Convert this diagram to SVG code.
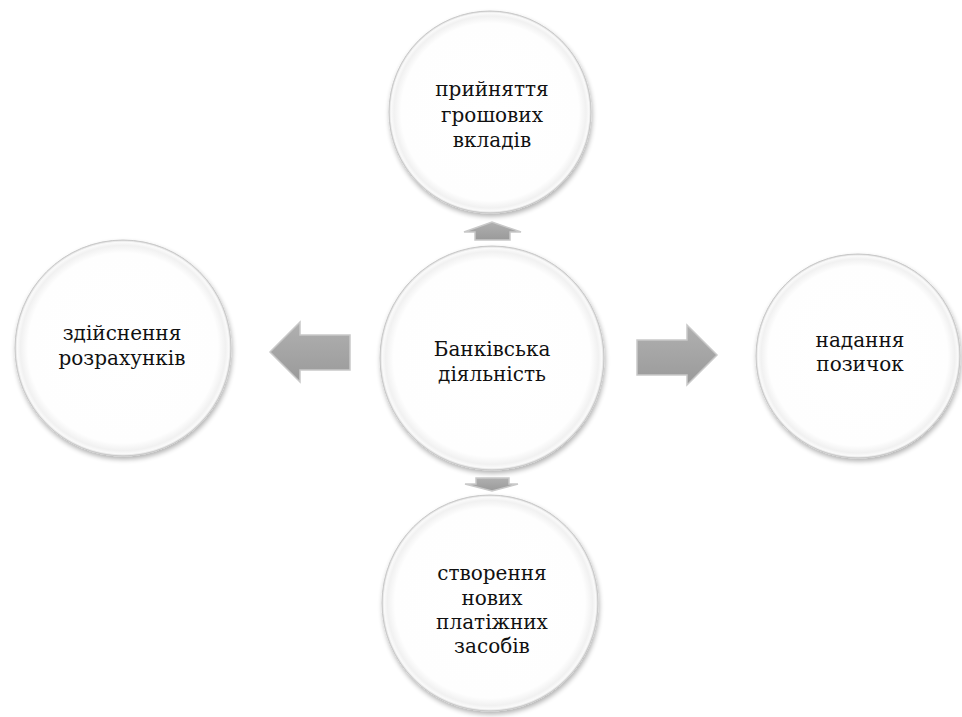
<svg xmlns="http://www.w3.org/2000/svg" width="962" height="717" viewBox="0 0 962 717">
<defs>
<radialGradient id="g" cx="0.5" cy="0.5" r="0.5">
<stop offset="0" stop-color="#ffffff"/>
<stop offset="0.88" stop-color="#fefefe"/>
<stop offset="0.95" stop-color="#f1f1f1"/>
<stop offset="0.98" stop-color="#fafafa"/>
<stop offset="1" stop-color="#d6d6d6"/>
</radialGradient>
<linearGradient id="ag" x1="0" y1="0" x2="0" y2="1">
<stop offset="0" stop-color="#b0b0b0"/>
<stop offset="1" stop-color="#9a9a9a"/>
</linearGradient>
<filter id="sh" x="-20%" y="-20%" width="140%" height="140%">
<feGaussianBlur in="SourceAlpha" stdDeviation="2.5"/>
<feOffset dx="1" dy="3" result="b"/>
<feComponentTransfer><feFuncA type="linear" slope="0.3"/></feComponentTransfer>
<feMerge><feMergeNode/><feMergeNode in="SourceGraphic"/></feMerge>
</filter>
</defs>
<style>
.c{fill:url(#g);stroke:#c8c8c8;stroke-width:1;filter:url(#sh)}
.t{font-family:"DejaVu Serif",serif;font-size:20px;fill:#111;text-anchor:middle}
.a{fill:url(#ag);stroke:#c9c9c9;stroke-width:1.5;stroke-linejoin:miter}
</style>
<rect width="962" height="717" fill="#fff"/>
<g id="connectors">
<polygon class="a" points="475,240 475,232 464,232 492,222 521,232 510,232 510,240"/>
<polygon class="a" points="350,335 300,335 300,322 270,352 300,382 300,370 350,370"/>
<polygon class="a" points="637,340 687,340 687,325 717,355 687,385 687,375 637,375"/>
<polygon class="a" points="476,478 476,484 465,484 492,491 518,484 509,484 509,478"/>
</g>
<g id="top">
<circle class="c" cx="490" cy="112" r="101"/>
<text class="t" x="492" y="96">прийняття</text>
<text class="t" x="492" y="122">грошових</text>
<text class="t" x="492" y="147">вкладів</text>
</g>
<g id="center">
<circle class="c" cx="492" cy="358" r="112"/>
<text class="t" x="492" y="356">Банківська</text>
<text class="t" x="492" y="381">діяльність</text>
</g>
<g id="left">
<circle class="c" cx="123" cy="348" r="108"/>
<text class="t" x="122" y="340">здійснення</text>
<text class="t" x="122" y="365">розрахунків</text>
</g>
<g id="right">
<circle class="c" cx="858" cy="356" r="102"/>
<text class="t" x="860" y="347">надання</text>
<text class="t" x="860" y="371">позичок</text>
</g>
<g id="bottom">
<circle class="c" cx="490" cy="603" r="108"/>
<text class="t" x="492" y="580">створення</text>
<text class="t" x="492" y="605">нових</text>
<text class="t" x="492" y="629">платіжних</text>
<text class="t" x="492" y="653">засобів</text>
</g>
</svg>
